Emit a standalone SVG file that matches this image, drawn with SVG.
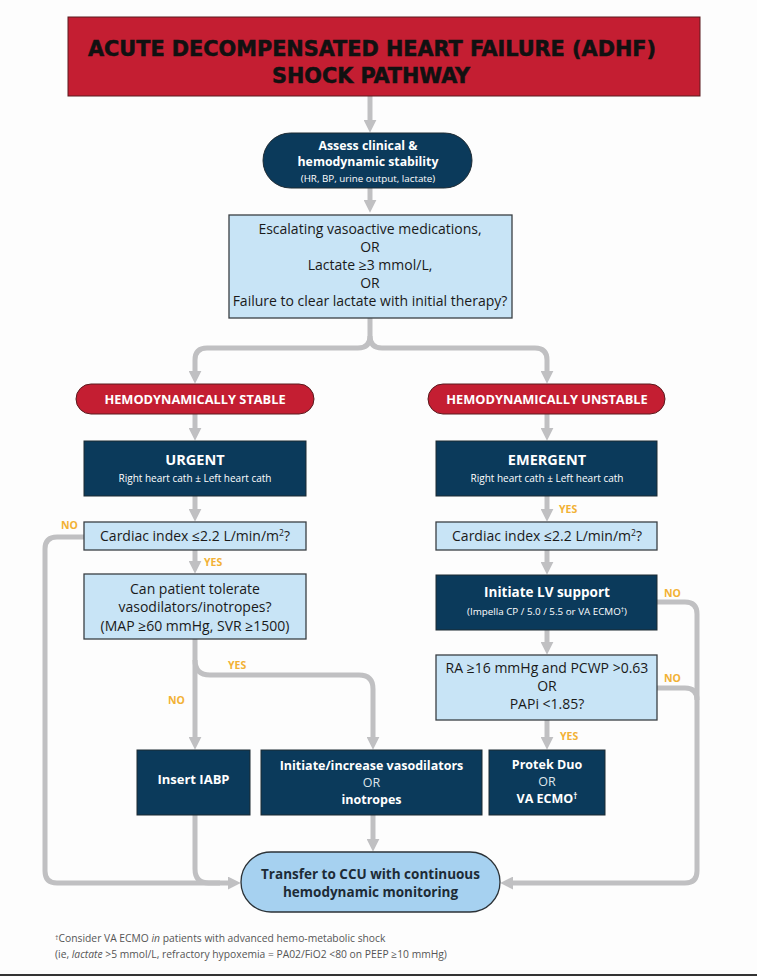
<svg xmlns="http://www.w3.org/2000/svg" width="757" height="977" viewBox="0 0 757 977">
<defs>
<marker id="ah" viewBox="0 0 10 10" refX="4" refY="5" markerWidth="13" markerHeight="13" markerUnits="userSpaceOnUse" orient="auto">
<path d="M0,0 L10,5 L0,10 z" fill="#c0c0c2"/>
</marker>
<style>
.c{fill:none;stroke:#c0c0c2;stroke-width:5;}
.a{marker-end:url(#ah);}
.navy{fill:#0b3a5b;stroke:#1d2a33;stroke-width:1;}
.lb{fill:#c8e4f6;stroke:#3a3f44;stroke-width:1.3;}
.red{fill:#c41e32;stroke:#5a1a1e;stroke-width:1;}
.t{font-family:"Open Sans",Lato,sans-serif;text-anchor:middle;}
.dk{fill:#1a1a1a;font-size:14px;}
.w{fill:#ffffff;}
.b{font-weight:bold;}
.lab{font-family:"Open Sans",Lato,sans-serif;font-weight:bold;font-size:10.5px;fill:#f2b134;}
.fn{font-family:"Open Sans",Lato,sans-serif;font-size:10.3px;fill:#555555;}
</style>
</defs>
<rect x="0" y="0" width="757" height="977" fill="#fdfdfd"/>
<g id="connectors">
<path class="c a" d="M370 96 V125"/>
<path class="c a" d="M370 188 V205"/>
<path class="c a" d="M370 318 V336 Q370 348 358 348 H207 Q195 348 195 360 V376"/>
<path class="c a" d="M370 336 Q370 348 382 348 H535 Q547 348 547 360 V376"/>
<path class="c a" d="M195 414 V433"/>
<path class="c a" d="M547 414 V433"/>
<path class="c a" d="M195 496 V514"/>
<path class="c a" d="M547 496 V514"/>
<path class="c a" d="M195 550 V566"/>
<path class="c a" d="M547 550 V567"/>
<path class="c a" d="M547 630 V647"/>
<path class="c a" d="M547 720 V742"/>
<path class="c a" d="M195 639 V742"/>
<path class="c a" d="M195 660 Q195 675 210 675 H359 Q373 675 373 689 V742"/>
<path class="c a" d="M84 537 H57 Q45 537 45 549 V871 Q45 883 57 883 H233"/>
<path class="c" d="M195 815 V869 Q195 883 209 883 H220"/>
<path class="c a" d="M373 815 V844"/>
<path class="c a" d="M657 602 H685 Q697 602 697 614 V871 Q697 883 685 883 H508"/>
<path class="c" d="M657 688 H685 Q697 688 697 700"/>
</g>
<g id="title">
<rect class="red" x="68" y="17" width="632" height="79"/>
<text x="372" y="56" font-family="'DejaVu Sans Condensed','DejaVu Sans',sans-serif" font-weight="bold" font-size="21" text-anchor="middle" fill="#111" stroke="#111" stroke-width="0.5" textLength="568" lengthAdjust="spacingAndGlyphs">ACUTE DECOMPENSATED HEART FAILURE (ADHF)</text>
<text x="371" y="83" font-family="'DejaVu Sans Condensed','DejaVu Sans',sans-serif" font-weight="bold" font-size="21" text-anchor="middle" fill="#111" stroke="#111" stroke-width="0.5" textLength="198" lengthAdjust="spacingAndGlyphs">SHOCK PATHWAY</text>
</g>
<g id="assess">
<rect class="navy" x="263" y="133" width="209" height="55" rx="27.5"/>
<text class="t w b" x="368" y="150" font-size="12.3">Assess clinical &amp;</text>
<text class="t w b" x="368" y="166" font-size="12.3">hemodynamic stability</text>
<text class="t w" x="368" y="182" font-size="9.8">(HR, BP, urine output, lactate)</text>
</g>
<g id="criteria">
<rect class="lb" x="229" y="215" width="283" height="103"/>
<text class="t dk" x="370" y="234">Escalating vasoactive medications,</text>
<text class="t dk" x="370" y="252">OR</text>
<text class="t dk" x="370" y="270">Lactate ≥3 mmol/L,</text>
<text class="t dk" x="370" y="288">OR</text>
<text class="t dk" x="370" y="306">Failure to clear lactate with initial therapy?</text>
</g>
<g id="stable">
<rect class="red" x="76" y="384" width="238" height="30" rx="15"/>
<text class="t w b" x="195" y="403.5" font-size="12.8">HEMODYNAMICALLY STABLE</text>
</g>
<g id="unstable">
<rect class="red" x="428" y="384" width="237" height="30" rx="15"/>
<text class="t w b" x="547" y="403.5" font-size="12.8">HEMODYNAMICALLY UNSTABLE</text>
</g>
<g id="urgent">
<rect class="navy" x="84" y="441" width="222" height="55"/>
<text class="t w b" x="195" y="465" font-size="14.5">URGENT</text>
<text class="t w" x="195" y="482" font-size="10">Right heart cath ± Left heart cath</text>
</g>
<g id="emergent">
<rect class="navy" x="436" y="441" width="221" height="55"/>
<text class="t w b" x="547" y="465" font-size="14.5">EMERGENT</text>
<text class="t w" x="547" y="482" font-size="10">Right heart cath ± Left heart cath</text>
</g>
<g id="ci-left">
<rect class="lb" x="84" y="522" width="222" height="28"/>
<text class="t dk" x="195" y="541">Cardiac index ≤2.2 L/min/m<tspan font-size="8.5" dy="-5">2</tspan><tspan dy="5">?</tspan></text>
</g>
<g id="ci-right">
<rect class="lb" x="436" y="522" width="221" height="28"/>
<text class="t dk" x="547" y="541">Cardiac index ≤2.2 L/min/m<tspan font-size="8.5" dy="-5">2</tspan><tspan dy="5">?</tspan></text>
</g>
<g id="tolerate">
<rect class="lb" x="84" y="574" width="222" height="65"/>
<text class="t dk" x="195" y="594">Can patient tolerate</text>
<text class="t dk" x="195" y="612">vasodilators/inotropes?</text>
<text class="t dk" x="195" y="631">(MAP ≥60 mmHg, SVR ≥1500)</text>
</g>
<g id="lv-support">
<rect class="navy" x="436" y="575" width="221" height="55"/>
<text class="t w b" x="547" y="597" font-size="13.5">Initiate LV support</text>
<text class="t w" x="547" y="615" font-size="9.8">(Impella CP / 5.0 / 5.5 or VA ECMO<tspan font-size="6.5" dy="-3">†</tspan><tspan dy="3">)</tspan></text>
</g>
<g id="ra">
<rect class="lb" x="436" y="655" width="221" height="65"/>
<text class="t dk" x="547" y="673">RA ≥16 mmHg and PCWP &gt;0.63</text>
<text class="t dk" x="547" y="691">OR</text>
<text class="t dk" x="547" y="709">PAPi &lt;1.85?</text>
</g>
<g id="iabp">
<rect class="navy" x="137" y="750" width="113" height="65"/>
<text class="t w b" x="193.5" y="784" font-size="13">Insert IABP</text>
</g>
<g id="vasodilators">
<rect class="navy" x="261" y="750" width="221" height="65"/>
<text class="t w b" x="371.5" y="770" font-size="12.5">Initiate/increase vasodilators</text>
<text class="t" x="371.5" y="787" font-size="12.5" fill="#dfe6ec">OR</text>
<text class="t w b" x="371.5" y="804" font-size="12.5">inotropes</text>
</g>
<g id="protek">
<rect class="navy" x="489" y="750" width="116" height="65"/>
<text class="t w b" x="547" y="769" font-size="12.5">Protek Duo</text>
<text class="t" x="547" y="786" font-size="12.5" fill="#dfe6ec">OR</text>
<text class="t w b" x="547" y="803" font-size="12.5">VA ECMO<tspan font-size="8" dy="-4">†</tspan></text>
</g>
<g id="transfer">
<rect x="241" y="852" width="259" height="60" rx="30" fill="#a6d1f0" stroke="#2b3237" stroke-width="1.3"/>
<text class="t b" x="370.5" y="879" font-size="13.5" fill="#1d2b36">Transfer to CCU with continuous</text>
<text class="t b" x="370.5" y="897" font-size="13.5" fill="#1d2b36">hemodynamic monitoring</text>
</g>
<g id="labels">
<text class="lab" x="61" y="529">NO</text>
<text class="lab" x="204" y="566">YES</text>
<text class="lab" x="228" y="669">YES</text>
<text class="lab" x="168" y="704">NO</text>
<text class="lab" x="559" y="513">YES</text>
<text class="lab" x="664" y="597">NO</text>
<text class="lab" x="664" y="682">NO</text>
<text class="lab" x="560" y="740">YES</text>
</g>
<g id="footnote">
<text class="fn" x="55" y="942"><tspan font-size="7" dy="-2">†</tspan><tspan dy="2">Consider VA ECMO </tspan><tspan font-style="italic">in</tspan> patients with advanced hemo-metabolic shock</text>
<text class="fn" x="55" y="958">(ie, <tspan font-style="italic">lactate</tspan> &gt;5 mmol/L, refractory hypoxemia = PA02/FiO2 &lt;80 on PEEP ≥10 mmHg)</text>
</g>
<line x1="0" y1="975" x2="757" y2="975" stroke="#333" stroke-width="2"/>
</svg>
